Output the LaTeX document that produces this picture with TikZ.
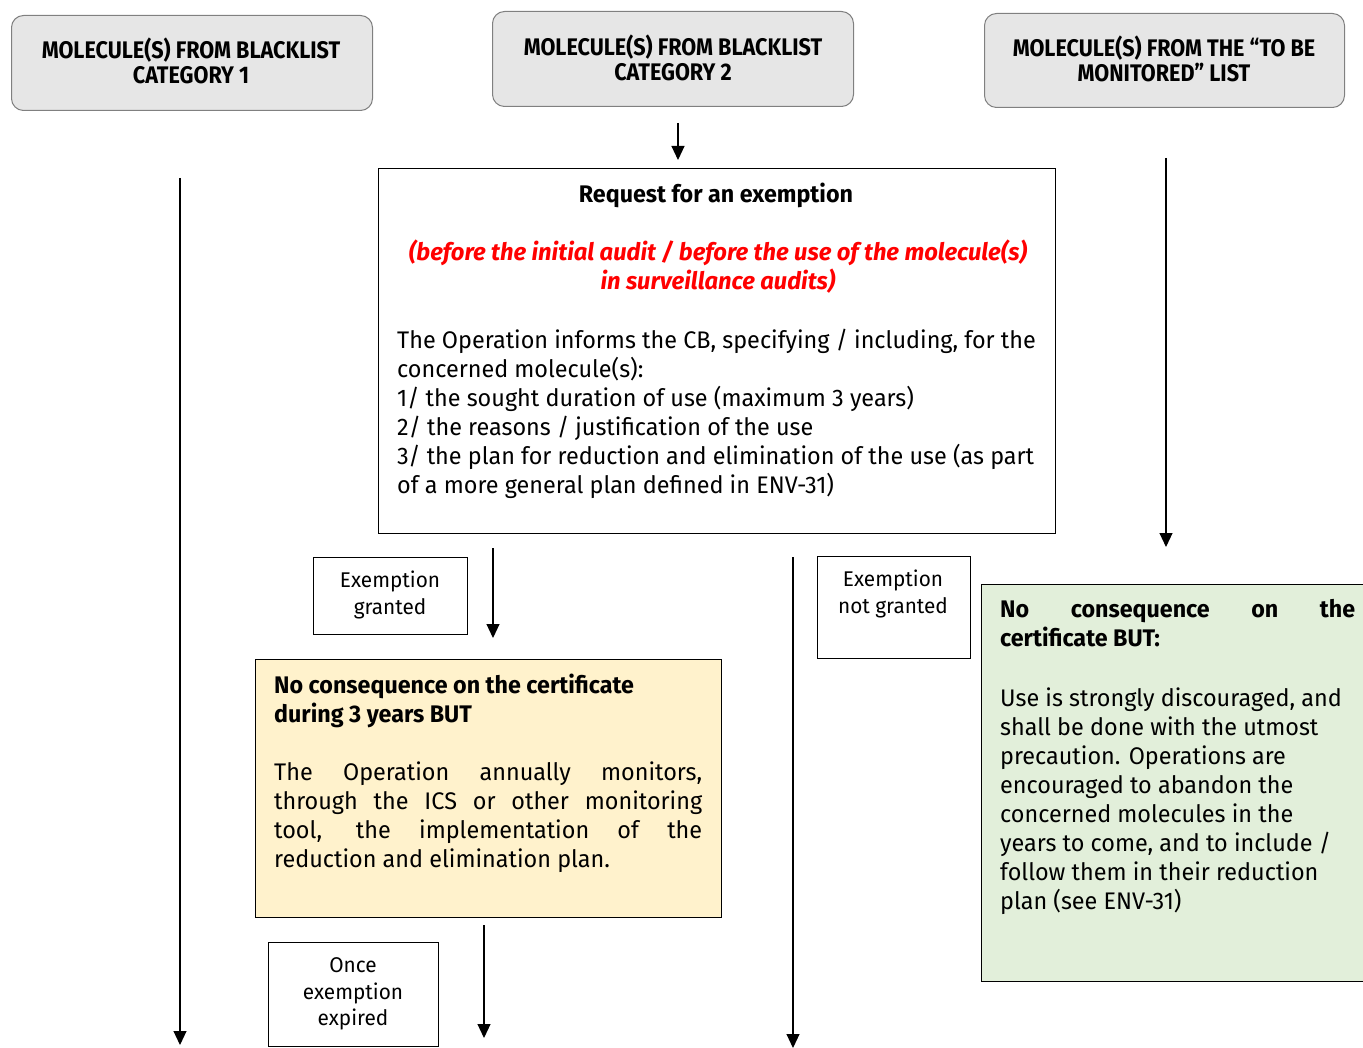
\documentclass[tikz,border=0pt]{standalone}
\usepackage{fontspec}
\setmainfont{Fira Sans}[FakeStretch=0.975]
\newfontfamily\headfont{Fira Sans}[FakeStretch=0.90]
\newfontfamily\boldfont{Fira Sans}[FakeStretch=0.97]
\newfontfamily\reditfont{Fira Sans}[FakeStretch=0.99]
\usetikzlibrary{arrows.meta}
\definecolor{boxgray}{HTML}{E6E6E6}
\definecolor{boxedge}{HTML}{808080}
\definecolor{yel}{HTML}{FFF2CC}
\definecolor{grn}{HTML}{E2EFDA}
\definecolor{redtxt}{HTML}{FF0000}
\begin{document}
\begin{tikzpicture}[x=1pt,y=-1pt,
  arr/.style={-{Triangle[length=14pt,width=13pt]}, line width=1.1pt},
  topbox/.style={draw=boxedge, fill=boxgray, rounded corners=12pt, line width=1pt, anchor=north west, inner sep=0},
  plainbox/.style={draw=black, line width=1pt, anchor=north west, inner sep=0},
  headtxt/.style={font=\headfont\bfseries\fontsize{24}{25.5}\selectfont, align=center, inner sep=0},
  bodytxt/.style={font=\fontsize{24}{29}\selectfont, inner sep=0},
  boldtxt/.style={font=\boldfont\bfseries\fontsize{24}{29}\selectfont, inner sep=0},
  smalltxt/.style={font=\fontsize{21.3}{26.3}\selectfont, align=center, inner sep=0},
  ]
\useasboundingbox (0,0) rectangle (1363,1048);
\begin{scope}
\clip (0,0) rectangle (1363,1048);
% top boxes
\node[topbox, minimum width=361pt, minimum height=95pt] (c1) at (11,15) {};
\node[headtxt] (c1t) at (191,61) {MOLECULE(S) FROM BLACKLIST\\CATEGORY 1};
\node[topbox, minimum width=361pt, minimum height=95pt] (c2) at (492,11) {};
\node[headtxt] (c2t) at (673,58) {MOLECULE(S) FROM BLACKLIST\\CATEGORY 2};
\node[topbox, minimum width=360pt, minimum height=94pt] (c3) at (984,13) {};
\node[headtxt] (c3t) at (1164,59) {MOLECULE(S) FROM THE “TO BE\\MONITORED” LIST};

% request box
\node[plainbox, minimum width=677pt, minimum height=365pt] (req) at (378,168) {};
\node[boldtxt] (reqt) at (716,195) {Request for an exemption};
\node[boldtxt, font=\reditfont\bfseries\itshape\fontsize{24}{29}\selectfont, text=redtxt, align=center] (reqr) at (718,267) {(before the initial audit / before the use of the molecule(s)\\in surveillance audits)};
\node[bodytxt, anchor=north west, align=left] (reqb) at (397,329) {The Operation informs the CB, specifying / including, for the\\concerned molecule(s):\\1/ the sought duration of use (maximum 3 years)\\2/ the reasons / justification of the use\\3/ the plan for reduction and elimination of the use (as part\\of a more general plan defined in ENV-31)};

% exemption granted
\node[plainbox, minimum width=154pt, minimum height=77pt] (eg) at (313,557) {};
\node[smalltxt] (egt) at (390,595) {Exemption\\granted};

% yellow box
\node[plainbox, fill=yel, minimum width=466pt, minimum height=258pt] (yb) at (255,659) {};
\node[boldtxt, anchor=north west, align=left] (ybt) at (274,674) {No consequence on the certificate\\during 3 years BUT};
\node[bodytxt, anchor=north west, text width=428pt, align=justify] (ybb) at (274,762) {The Operation annually monitors,\linebreak through the ICS or other monitoring\linebreak tool, the implementation of the\linebreak reduction and elimination plan.};

% exemption not granted
\node[plainbox, minimum width=153pt, minimum height=102pt] (en) at (817,556) {};
\node[smalltxt, anchor=north] (ent) at (893,570) {Exemption\\not granted};

% green box
\node[plainbox, fill=grn, minimum width=390pt, minimum height=397pt] (gb) at (981,584) {};
\node[boldtxt, anchor=north west, text width=355pt, align=justify] (gbt) at (1000,599) {No consequence on the\linebreak certificate BUT:};
\node[bodytxt, anchor=north west, align=left] (gbb) at (1000,688) {Use is strongly discouraged, and\\shall be done with the utmost\\precaution. Operations are\\encouraged to abandon the\\concerned molecules in the\\years to come, and to include /\\follow them in their reduction\\plan (see ENV-31)};

% once exemption expired
\node[plainbox, minimum width=170pt, minimum height=104pt] (oe) at (268,942) {};
\node[smalltxt] (oet) at (353,994) {Once\\exemption\\expired};

% arrows
\coordinate (a1s) at (180,178); \coordinate (a1e) at (180,1045);
\coordinate (a2s) at (678,123); \coordinate (a2e) at (678,160);
\coordinate (a3s) at (1166,158); \coordinate (a3e) at (1166,547);
\coordinate (a4s) at (493,548); \coordinate (a4e) at (493,638);
\coordinate (a5s) at (793,557); \coordinate (a5e) at (793,1048);
\coordinate (a6s) at (484,925); \coordinate (a6e) at (484,1038);
\draw[arr] (a1s) -- (a1e);
\draw[arr] (a2s) -- (a2e);
\draw[arr] (a3s) -- (a3e);
\draw[arr] (a4s) -- (a4e);
\draw[arr] (a5s) -- (a5e);
\draw[arr] (a6s) -- (a6e);
\end{scope}
\end{tikzpicture}
\end{document}
